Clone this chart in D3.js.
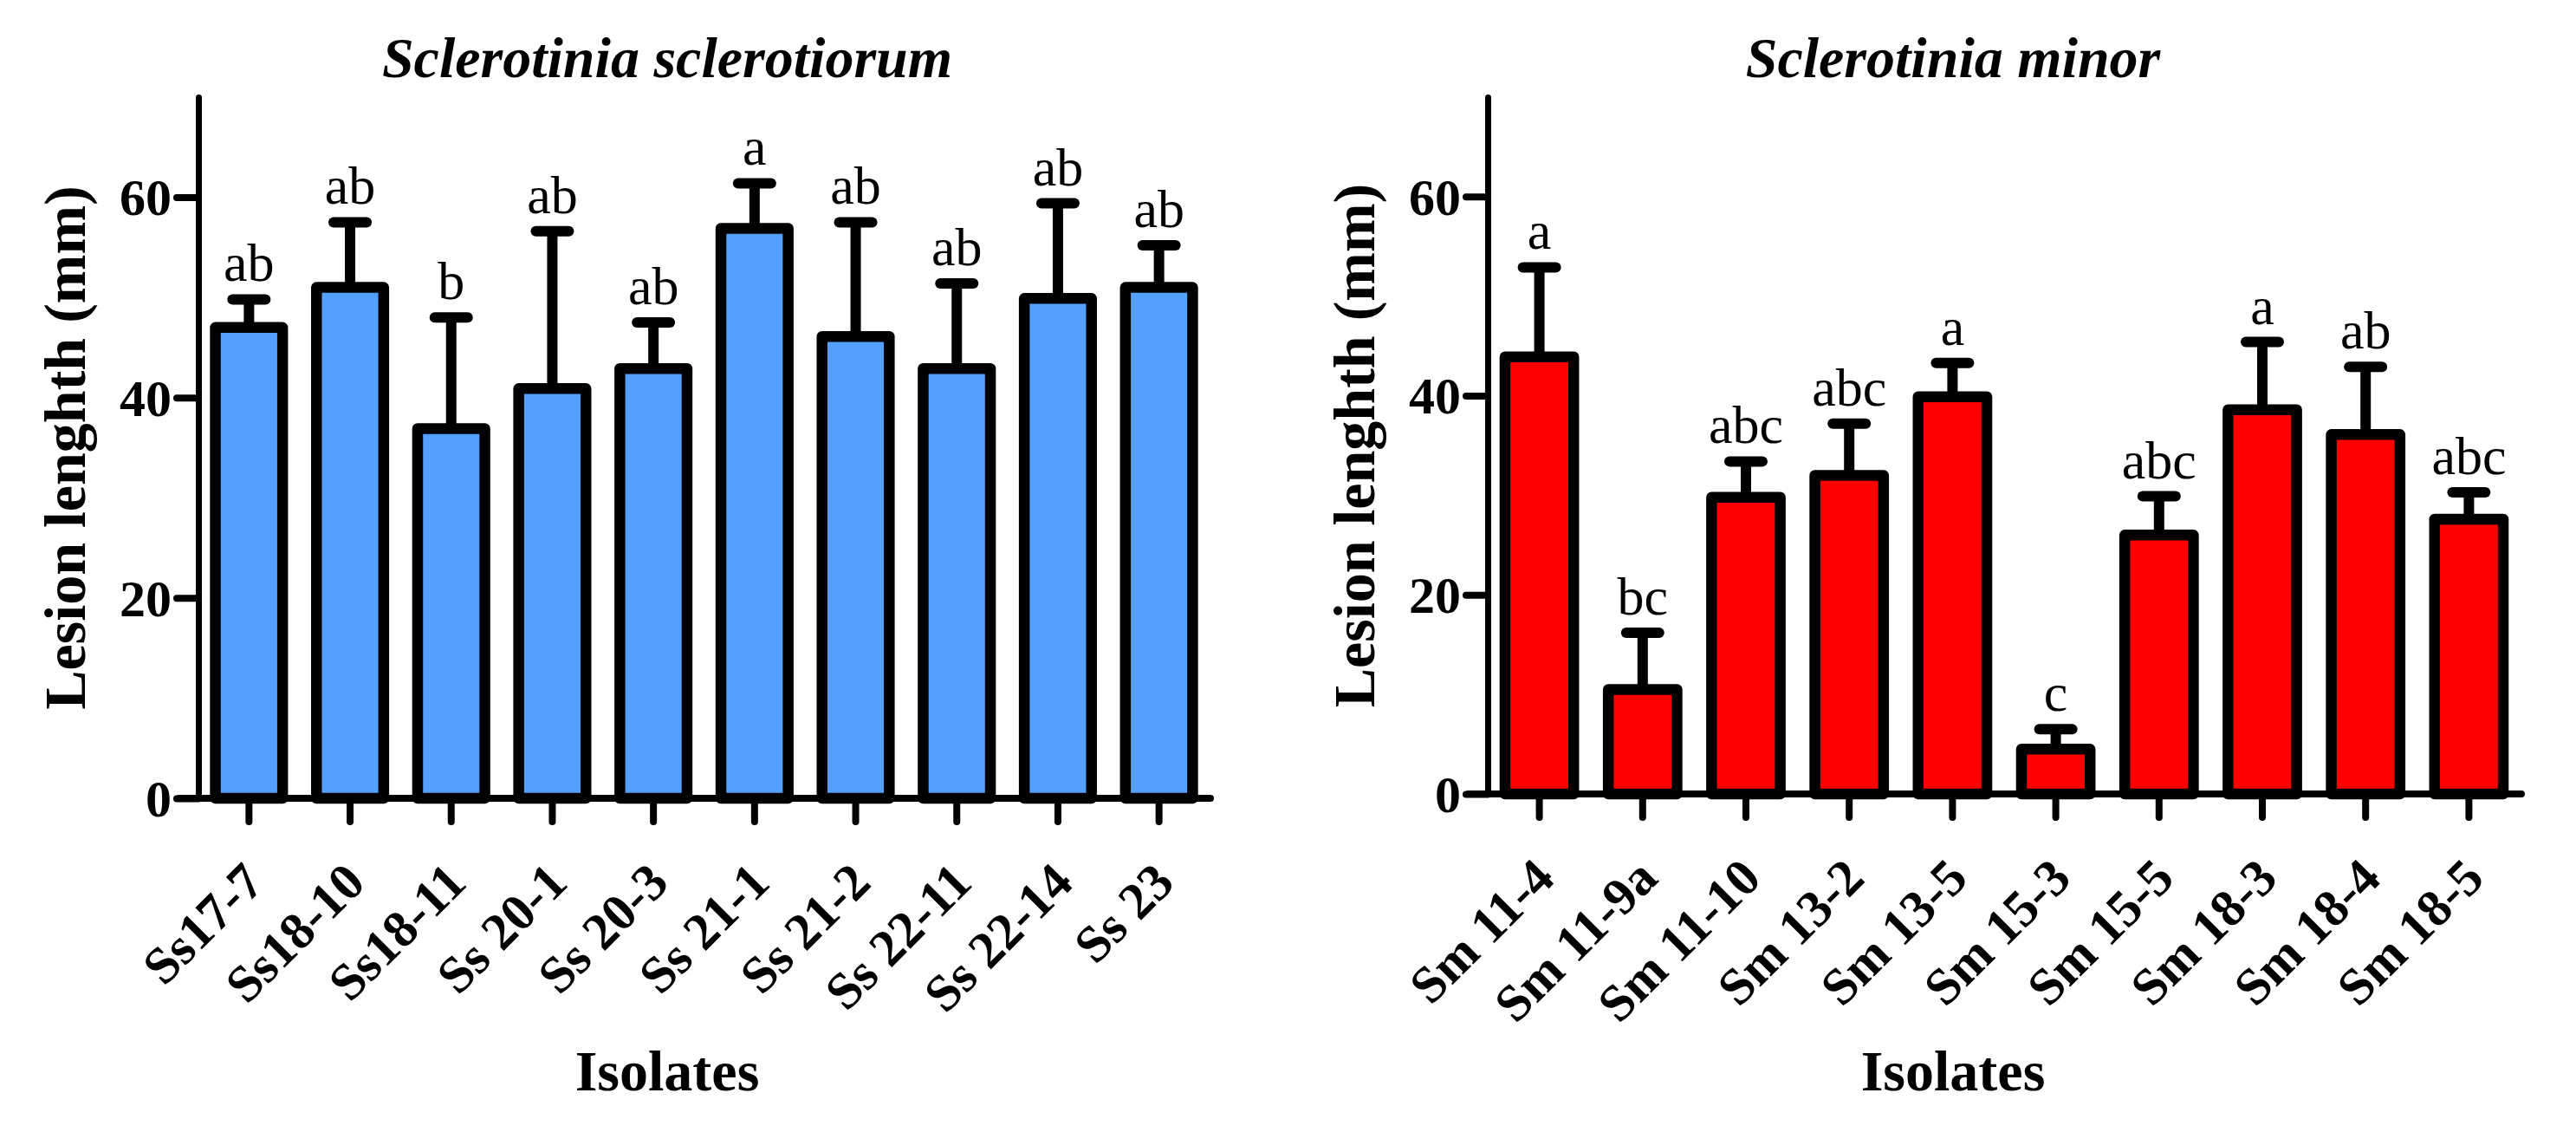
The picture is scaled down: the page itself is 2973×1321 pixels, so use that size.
<!DOCTYPE html>
<html>
<head>
  <meta charset="utf-8">
  <title>Lesion length of Sclerotinia isolates</title>
  <script src="https://cdn.jsdelivr.net/npm/d3@7"></script>
  <style>
    body {
      margin: 0;
      background: #fff;
    }

    svg {
      display: block;
      font-family: "Liberation Serif", "Times New Roman", serif;
    }
  </style>
</head>
<body>
  <main id="container"></main>

  <script type="module">
    // values (mean and upper error bar as SD)
    const ssIsolates = ["Ss17-7", "Ss18-10", "Ss18-11", "Ss 20-1", "Ss 20-3", "Ss 21-1", "Ss 21-2", "Ss 22-11", "Ss 22-14", "Ss 23"];
    const ssMeans = [47.0, 51.0, 36.9, 40.9, 42.9, 56.9, 46.1, 42.9, 49.9, 51.0];
    const ssSD = [2.8, 6.5, 11.1, 15.7, 4.6, 4.5, 11.4, 8.5, 9.5, 4.2];
    const ssLetters = ["ab", "ab", "b", "ab", "ab", "a", "ab", "ab", "ab", "ab"];

    const smIsolates = ["Sm 11-4", "Sm 11-9a", "Sm 11-10", "Sm 13-2", "Sm 13-5", "Sm 15-3", "Sm 15-5", "Sm 18-3", "Sm 18-4", "Sm 18-5"];
    const smMeans = [43.9, 10.5, 29.8, 32.0, 39.9, 4.5, 26.0, 38.6, 36.1, 27.6];
    const smSD = [9.0, 5.7, 3.6, 5.2, 3.4, 2.0, 3.9, 6.8, 6.8, 2.7];
    const smLetters = ["a", "bc", "abc", "abc", "a", "c", "abc", "a", "ab", "abc"];

    const yTicks = [0, 20, 40, 60];
    const yMax = 70;

    const width = 2973;
    const height = 1321;

    const svg = d3.select("#container")
      .append("svg")
      .attr("width", width)
      .attr("height", height);

    svg.append("rect")
      .attr("width", width)
      .attr("height", height)
      .attr("fill", "#fff");

    function drawPanel(p) {
      const data = p.isolates.map((name, i) => ({
        name,
        mean: p.means[i],
        sd: p.sd[i],
        letter: p.letters[i]
      }));

      const x = d3.scaleBand()
        .domain(p.isolates)
        .range([p.left, p.right])
        .paddingInner(0.335)
        .paddingOuter(0.1675);

      const y = d3.scaleLinear()
        .domain([0, yMax])
        .range([p.base, p.top]);

      const g = svg.append("g");
      const cx = d => x(d.name) + x.bandwidth() / 2;

      // error bars first, so the bar outline covers their foot
      const err = g.append("g")
        .attr("stroke", "#000")
        .attr("stroke-width", 12)
        .attr("stroke-linecap", "round");

      err.selectAll("line.stem")
        .data(data)
        .join("line")
        .attr("class", "stem")
        .attr("stroke-linecap", "butt")
        .attr("x1", cx)
        .attr("x2", cx)
        .attr("y1", d => y(d.mean))
        .attr("y2", d => y(d.mean + d.sd));

      err.selectAll("line.cap")
        .data(data)
        .join("line")
        .attr("class", "cap")
        .attr("x1", d => cx(d) - 19)
        .attr("x2", d => cx(d) + 19)
        .attr("y1", d => y(d.mean + d.sd))
        .attr("y2", d => y(d.mean + d.sd));

      g.append("g")
        .selectAll("rect")
        .data(data)
        .join("rect")
        .attr("x", d => x(d.name))
        .attr("y", d => y(d.mean))
        .attr("width", x.bandwidth())
        .attr("height", d => y(0) - y(d.mean))
        .attr("fill", p.color)
        .attr("stroke", "#000")
        .attr("stroke-width", 12.5)
        .attr("stroke-linejoin", "round");

      // significance letters
      g.append("g")
        .selectAll("text")
        .data(data)
        .join("text")
        .attr("x", cx)
        .attr("y", d => y(d.mean + d.sd) - 21)
        .attr("text-anchor", "middle")
        .style("font-size", "62px")
        .text(d => d.letter);

      // y axis
      const axisY = g.append("g")
        .attr("transform", `translate(${p.left},0)`)
        .call(d3.axisLeft(y).tickValues(yTicks).tickSize(25).tickSizeOuter(0).tickPadding(6));

      axisY.select(".domain")
        .attr("stroke-width", 7)
        .attr("stroke-linecap", "round");
      axisY.selectAll(".tick line")
        .attr("stroke-width", 8)
        .attr("stroke-linecap", "round");
      axisY.selectAll(".tick text")
        .attr("dy", "0.34em")
        .attr("fill", "#000")
        .style("font-size", "60px")
        .style("font-weight", "bold")
        .style("font-family", "'Liberation Serif', serif");

      // x axis
      const axisX = g.append("g")
        .attr("transform", `translate(0,${p.base})`)
        .call(d3.axisBottom(x).tickSize(27).tickSizeOuter(0));

      axisX.select(".domain")
        .attr("d", `M${p.left - 22},0H${p.right + 1}`)
        .attr("stroke-width", 8)
        .attr("stroke-linecap", "round");
      axisX.selectAll(".tick line")
        .attr("stroke-width", 8)
        .attr("stroke-linecap", "round");
      axisX.selectAll(".tick text")
        .attr("x", 0)
        .attr("y", 0)
        .attr("dy", 0)
        .attr("text-anchor", "end")
        .attr("transform", "translate(20,100) rotate(-45)")
        .attr("fill", "#000")
        .style("font-size", "60px")
        .style("font-weight", "bold")
        .style("font-family", "'Liberation Serif', serif");

      // titles
      svg.append("text")
        .attr("x", p.titleX)
        .attr("y", 89)
        .attr("text-anchor", "middle")
        .style("font-size", "66px")
        .style("font-weight", "bold")
        .style("font-style", "italic")
        .text(p.title);

      svg.append("text")
        .attr("transform", `translate(${p.left - 131},${(p.base + p.top) / 2}) rotate(-90)`)
        .attr("text-anchor", "middle")
        .style("font-size", "68px")
        .style("font-weight", "bold")
        .text("Lesion lenghth (mm)");

      svg.append("text")
        .attr("x", p.titleX)
        .attr("y", 1258)
        .attr("text-anchor", "middle")
        .style("font-size", "66px")
        .style("font-weight", "bold")
        .text("Isolates");
    }

    drawPanel({
      isolates: ssIsolates,
      means: ssMeans,
      sd: ssSD,
      letters: ssLetters,
      color: "#55A0FF",
      title: "Sclerotinia sclerotiorum",
      left: 229,
      right: 1396,
      top: 112,
      base: 921,
      titleX: 770
    });

    drawPanel({
      isolates: smIsolates,
      means: smMeans,
      sd: smSD,
      letters: smLetters,
      color: "#FF0000",
      title: "Sclerotinia minor",
      left: 1717,
      right: 2909,
      top: 112,
      base: 916,
      titleX: 2254
    });
  </script>
</body>
</html>
